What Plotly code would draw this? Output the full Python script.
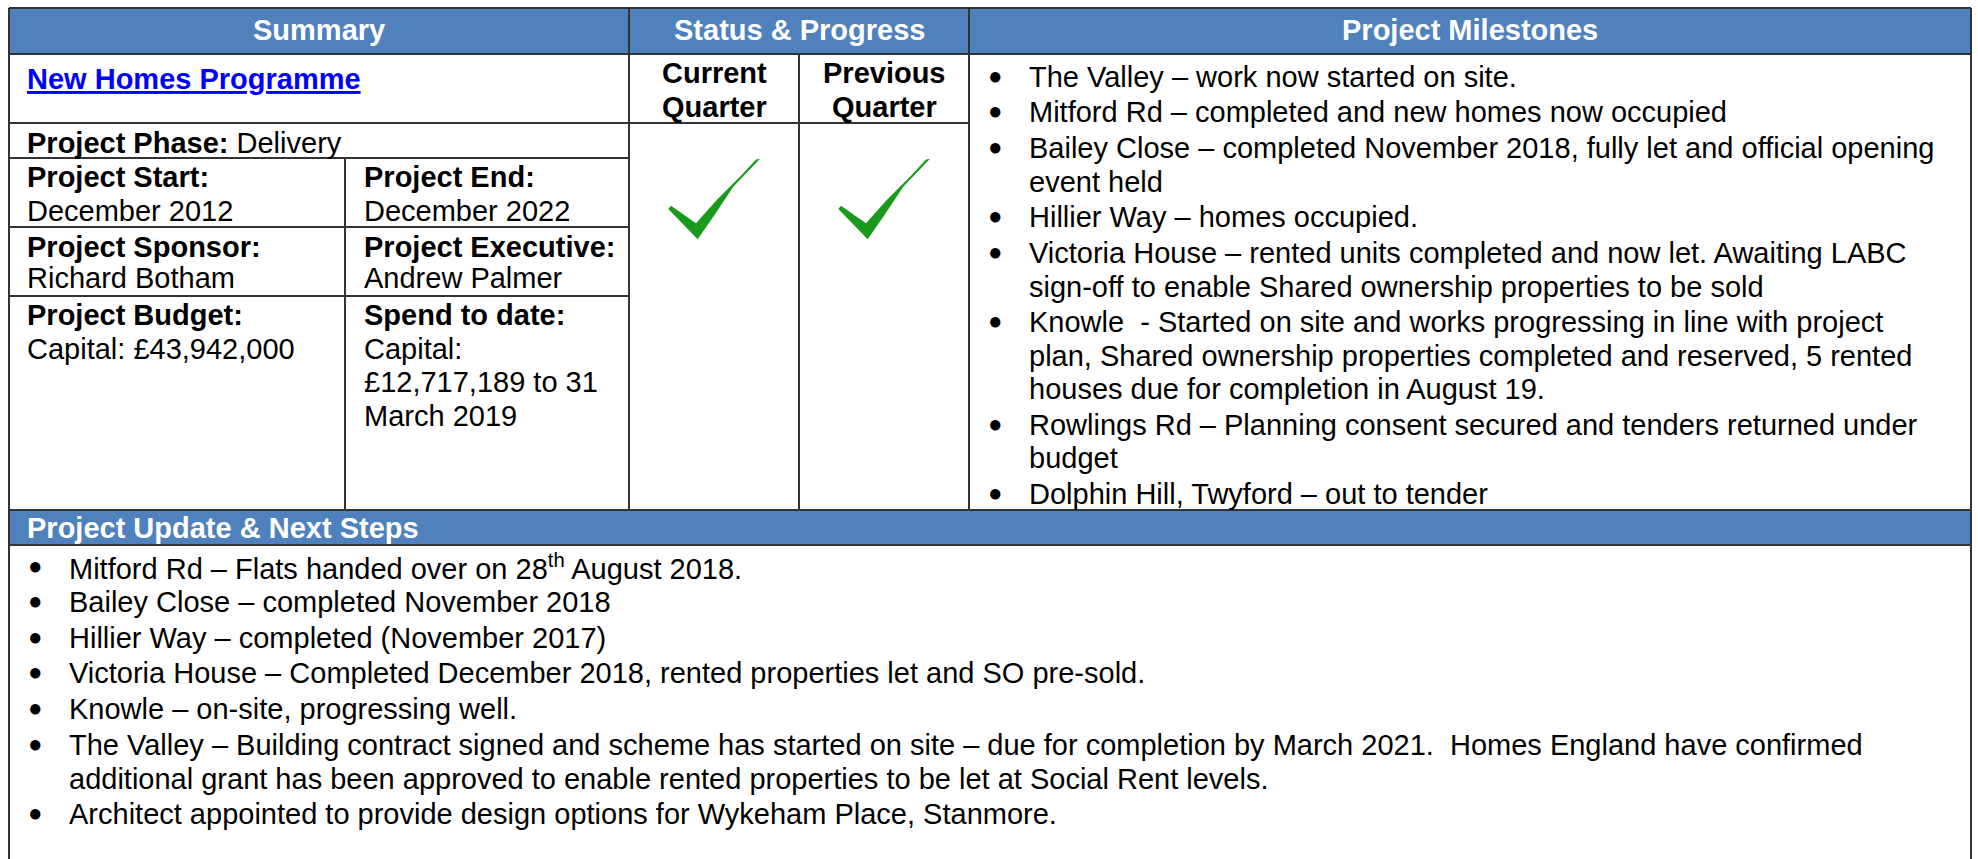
import plotly.graph_objects as go

# ---------------- data ----------------
HEADERS = ["Summary", "Status & Progress", "Project Milestones"]
PROGRAMME = "New Homes Programme"
PHASE_LABEL = "Project Phase:"
PHASE_VALUE = "Delivery"
FIELD_LABELS_LEFT = ["Project Start:", "Project Sponsor:", "Project Budget:"]
FIELD_VALUES_LEFT = [["December 2012"], ["Richard Botham"], ["Capital: £43,942,000"]]
FIELD_LABELS_RIGHT = ["Project End:", "Project Executive:", "Spend to date:"]
FIELD_VALUES_RIGHT = [["December 2022"], ["Andrew Palmer"], ["Capital:", "£12,717,189 to 31", "March 2019"]]
STATUS_LABELS = [["Current", "Quarter"], ["Previous", "Quarter"]]
STATUS_VALUES = ["on track", "on track"]
MILESTONES = [
    ["The Valley – work now started on site."],
    ["Mitford Rd – completed and new homes now occupied"],
    ["Bailey Close – completed November 2018, fully let and official opening", "event held"],
    ["Hillier Way – homes occupied."],
    ["Victoria House – rented units completed and now let. Awaiting LABC",
     "sign-off to enable Shared ownership properties to be sold"],
    ["Knowle \u00a0- Started on site and works progressing in line with project",
     "plan, Shared ownership properties completed and reserved, 5 rented",
     "houses due for completion in August 19."],
    ["Rowlings Rd – Planning consent secured and tenders returned under", "budget"],
    ["Dolphin Hill, Twyford – out to tender"],
]
UPDATE_TITLE = "Project Update & Next Steps"
UPDATES = [
    ["Mitford Rd – Flats handed over on 28<sup>th</sup> August 2018."],
    ["Bailey Close – completed November 2018"],
    ["Hillier Way – completed (November 2017)"],
    ["Victoria House – Completed December 2018, rented properties let and SO pre-sold."],
    ["Knowle – on-site, progressing well."],
    ["The Valley – Building contract signed and scheme has started on site – due for completion by March 2021. \u00a0Homes England have confirmed",
     "additional grant has been approved to enable rented properties to be let at Social Rent levels."],
    ["Architect appointed to provide design options for Wykeham Place, Stanmore."],
]

# ---------------- layout / style ----------------
W, H = 1978, 859
FONT = "Arial, 'Liberation Sans', sans-serif"
FS = 29
BLUE = "#4F81BD"
LINE = "#333333"
LINK = "#0000FF"
CHECK_GREEN = "#1A9A1A"

X0, X1 = 9, 1971
Y_TOP, Y_H1, Y_R2 = 8, 54, 123
Y_PHASE, Y_START, Y_SPONS = 158, 227, 296
Y_UPD0, Y_UPD1 = 510, 545
XC1, XC2, XC3 = 629, 799, 969
XMID = 345

shapes = []
annotations = []


def rect(x0, y0, x1, y1, fill):
    shapes.append(dict(type="rect", xref="x", yref="y", x0=x0, y0=y0, x1=x1, y1=y1,
                       fillcolor=fill, line=dict(width=0), layer="below"))


def line(x0, y0, x1, y1, w=2, color=LINE):
    shapes.append(dict(type="line", xref="x", yref="y", x0=x0, y0=y0, x1=x1, y1=y1,
                       line=dict(color=color, width=w)))


def text(x, y, s, color="black", anchor="left", size=FS):
    annotations.append(dict(x=x, y=y, xref="x", yref="y", text=s, showarrow=False,
                            xanchor=anchor, yanchor="middle", align=anchor,
                            font=dict(family=FONT, size=size, color=color)))


def bullet(x, y):
    text(x, y - 1.5, "●", anchor="center", size=24)


# header fills
rect(X0, Y_TOP, X1, Y_H1, BLUE)
rect(X0, Y_UPD0, X1, Y_UPD1, BLUE)

# grid lines
line(X0, Y_TOP, X1, Y_TOP)
line(X0, Y_H1, X1, Y_H1)
line(X0, Y_R2, XC3, Y_R2)
for yy in (Y_PHASE, Y_START, Y_SPONS):
    line(X0, yy, XC1, yy)
line(X0, Y_UPD0, X1, Y_UPD0)
line(X0, Y_UPD1, X1, Y_UPD1)
line(X0, Y_TOP, X0, H)
line(X1, Y_TOP, X1, H)
line(XC1, Y_TOP, XC1, Y_UPD0)
line(XC3, Y_TOP, XC3, Y_UPD0)
line(XC2, Y_H1, XC2, Y_UPD0)
line(XMID, Y_PHASE, XMID, Y_UPD0)

# header texts
col_bounds = [(X0, XC1), (XC1, XC3), (XC3, X1)]
for h, (a, b) in zip(HEADERS, col_bounds):
    text((a + b) / 2, 29.5, f"<b>{h}</b>", color="white", anchor="center")

# summary
text(25, 79, f"<b><u>{PROGRAMME}</u></b>", color=LINK)
text(25, 143, f"<b>{PHASE_LABEL}</b> {PHASE_VALUE}")
row_tops = [177, 247, 315]
row_lh = [34, 31, 33.5]
for i, top in enumerate(row_tops):
    text(25, top, f"<b>{FIELD_LABELS_LEFT[i]}</b>")
    for j, v in enumerate(FIELD_VALUES_LEFT[i]):
        text(25, top + row_lh[i] * (j + 1), v)
    text(362, top, f"<b>{FIELD_LABELS_RIGHT[i]}</b>")
    for j, v in enumerate(FIELD_VALUES_RIGHT[i]):
        text(362, top + row_lh[i] * (j + 1), v)

# status
status_bounds = [(XC1, XC2), (XC2, XC3)]
CHECK = [(-43, 82.7), (-45.7, 86), (-16.3, 116.3), (-0.7, 93.7), (19.3, 63.7), (46, 35.7),
         (42, 36.5), (26, 53.7), (2.7, 77), (-18, 100.3)]
for lab, val, (a, b) in zip(STATUS_LABELS, STATUS_VALUES, status_bounds):
    cx = (a + b) / 2
    text(cx, 73, f"<b>{lab[0]}</b>", anchor="center")
    text(cx, 107, f"<b>{lab[1]}</b>", anchor="center")
    if val == "on track":
        pts = [(cx + dx, Y_R2 + dy) for dx, dy in CHECK]
        path = "M " + " L ".join(f"{px:.1f},{py:.1f}" for px, py in pts) + " Z"
        shapes.append(dict(type="path", xref="x", yref="y", path=path,
                           fillcolor=CHECK_GREEN, line=dict(width=0)))

# milestones
y = 76.5
for item in MILESTONES:
    bullet(995, y)
    for k, ln in enumerate(item):
        text(1027, y, ln)
        if k < len(item) - 1:
            y += 33.2
    y += 35.9

# project update
text(25, 527.5, f"<b>{UPDATE_TITLE}</b>", color="white")
y = 566.5
for item in UPDATES:
    bullet(35, y)
    for k, ln in enumerate(item):
        text(67, y, ln)
        if k < len(item) - 1:
            y += 34
    y += 35.6

fig = go.Figure()
fig.update_layout(
    width=W, height=H, autosize=False,
    margin=dict(l=0, r=0, t=0, b=0),
    paper_bgcolor="white", plot_bgcolor="white",
    xaxis=dict(range=[0, W], visible=False, fixedrange=True),
    yaxis=dict(range=[H, 0], visible=False, fixedrange=True),
    shapes=shapes, annotations=annotations, showlegend=False,
)
fig.write_html("out.html", config={"displayModeBar": False},
               post_script="document.body.style.margin='0';document.body.style.overflow='hidden';")
